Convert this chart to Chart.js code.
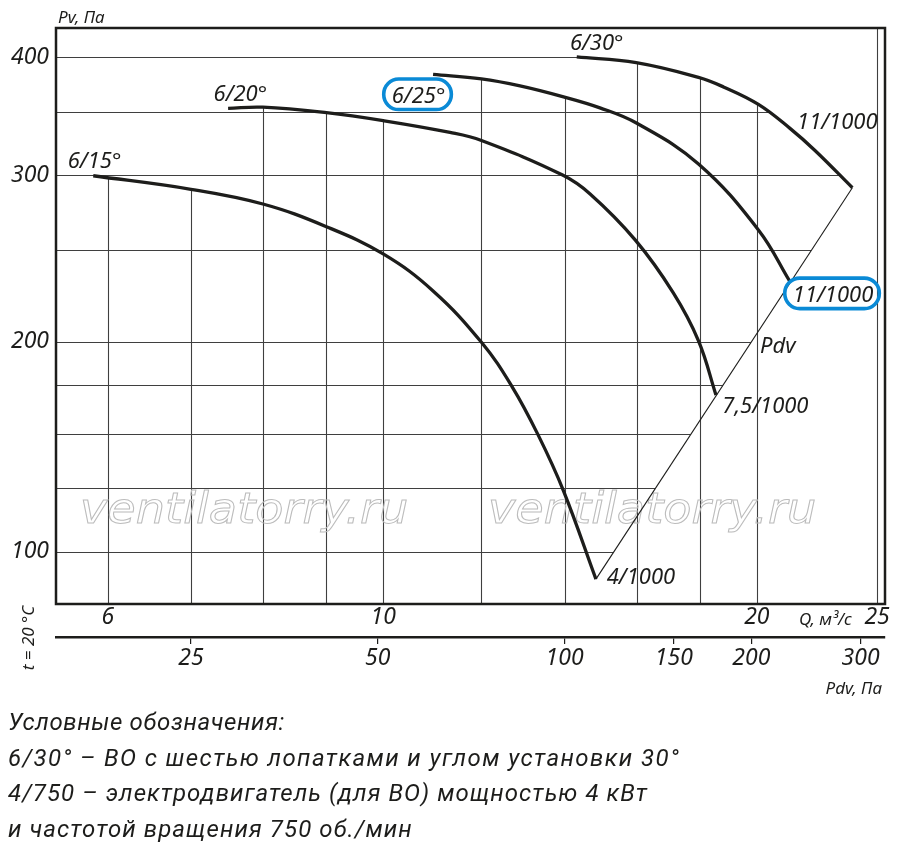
<!DOCTYPE html>
<html lang="ru">
<head>
<meta charset="utf-8">
<title>Аэродинамические характеристики ВО</title>
<script src="https://cdn.jsdelivr.net/npm/chart.js@4.4.1/dist/chart.umd.min.js"></script>
<style>
  html, body { margin: 0; padding: 0; background: #fff; }
  #wrap { position: relative; width: 900px; height: 854px; overflow: hidden; }
  #chart { position: absolute; left: 0; top: 0; }
  #legend {
    position: absolute; left: 8px; top: 705px;
    font-family: Roboto, "Noto Sans", sans-serif;
    font-style: italic; font-size: 24px; line-height: 35.5px; color: #1d1d1b;
  }
  #legend div { white-space: nowrap; width: max-content; }
</style>
</head>
<body>
<div id="wrap">
  <canvas id="chart" width="900" height="854"></canvas>
  <div id="legend">
    <div data-w="277">Условные обозначения:</div>
    <div data-w="672">6/30° – ВО с шестью лопатками и углом установки 30°</div>
    <div data-w="640">4/750 – электродвигатель (для ВО) мощностью 4 кВт</div>
    <div data-w="405">и частотой вращения 750 об./мин</div>
  </div>
</div>
<script>
// fan curves: Q, м³/с and Pv, Па
const q15 = [5.84, 7.0, 8.0, 9.0, 10.0, 10.97, 12.0, 12.7, 13.33, 13.97, 14.84];
const pv15 = [299.6, 289.9, 279.7, 264.7, 247.7, 226.4, 199.8, 179.4, 159.5, 139.3, 112.3];
const q20 = [7.5, 8.0, 9.0, 10.0, 11.32, 12.0, 13.95, 14.68, 15.96, 17.13, 17.95, 18.54];
const pv20 = [353, 354, 349.3, 342.6, 332.9, 326.4, 300.1, 286.6, 256.3, 225.3, 200.5, 175.8];
const q25 = [10.97, 12.0, 12.89, 13.95, 14.95, 16.01, 17.95, 20.06, 21.27];
const pv25 = [383.5, 379.2, 372.8, 363.2, 353.4, 340.4, 308.3, 262.6, 231.6];
const q30 = [14.32, 15.99, 17.95, 18.8, 20.06, 21.27, 22.28, 23.88];
const pv30 = [400, 394.5, 380.6, 371.9, 356.4, 336.2, 318.6, 291];
// dynamic pressure line through the curve ends
const qPdv = [14.84, 23.88];
const pvPdv = [112.3, 291];

const qTicks = [6, 7, 8, 9, 10, 12, 14, 16, 18, 20, 25];
const qLabels = ['6', '', '', '', '10', '', '', '', '', '20', '25'];
// the source drawing prints "100" on its lowest grid line
const pvTicks = [120, 140, 160, 180, 200, 250, 300, 350, 400];
const pvLabels = ['100', '', '', '', '200', '', '300', '', '400'];
const pdvTicks = [25, 50, 100, 150, 200, 300];

const qMin = 5.45, qMax = 25.37;
const pvMin = 105.7, pvMax = 429.2;
// Pdv scale: 25 Па at 7 м³/с, grows as Q²
const pdvOf = q => 25 * Math.pow(q / 7, 2);

const curveLabels = [
  { text: '6/15°', q: 5.57, pv: 305 },
  { text: '6/20°', q: 7.30, pv: 359 },
  { text: '6/25°', q: 10.16, pv: 358, boxed: true },
  { text: '6/30°', q: 14.14, pv: 407 },
  { text: '11/1000', q: 21.55, pv: 336 },
  { text: '11/1000', q: 21.38, pv: 220.6, boxed: true },
  { text: 'Pdv', q: 20.12, pv: 194.6 },
  { text: '7,5/1000', q: 18.76, pv: 168.2 },
  { text: '4/1000', q: 15.14, pv: 110.9 }
];

const INK = '#1d1d1b';
const GRID = '#3f3f3f';
const BLUE = '#0a8ad6';
const FAMILY = '"Noto Sans", "Open Sans", sans-serif';
const tickFont = { family: FAMILY, size: 23, style: 'italic' };

function tracePath(ctx, pts) {
  // follow the same bezier segments the line element uses
  ctx.lineTo(pts[0].x, pts[0].y);
  for (let i = 1; i < pts.length; i++) {
    const a = pts[i - 1], b = pts[i];
    if (a.cp2x !== undefined && b.cp1x !== undefined) {
      ctx.bezierCurveTo(a.cp2x, a.cp2y, b.cp1x, b.cp1y, b.x, b.y);
    } else {
      ctx.lineTo(b.x, b.y);
    }
  }
}

const decor = {
  id: 'decor',
  beforeDatasetsDraw(chart) {
    const { ctx, chartArea: a, scales } = chart;
    const pts = chart.data.datasets.map((d, i) => {
      const meta = chart.getDatasetMeta(i);
      meta.dataset.updateControlPoints(a, 'x');
      return meta.data;
    });
    const fans = pts.slice(0, 4);
    const p30 = pts[3];
    const pdv = pts[4];
    const end30 = p30[p30.length - 1];

    ctx.save();
    ctx.strokeStyle = GRID;
    ctx.lineWidth = 1.1;

    // vertical lines start at the upper curve
    ctx.save();
    ctx.beginPath();
    fans.forEach(p => {
      ctx.moveTo(p[0].x, a.bottom);
      tracePath(ctx, p);
      ctx.lineTo(p[p.length - 1].x, a.bottom);
      ctx.closePath();
    });
    ctx.rect(end30.x, a.top, a.right - end30.x, a.bottom - a.top);
    ctx.clip();
    ctx.beginPath();
    scales.x.ticks.forEach(t => {
      const x = Math.round(scales.x.getPixelForValue(t.value)) + 0.5;
      ctx.moveTo(x, a.top);
      ctx.lineTo(x, a.bottom);
    });
    ctx.stroke();
    ctx.restore();

    // horizontal lines stop at the 6/30 curve and the Pdv line
    ctx.save();
    ctx.beginPath();
    ctx.moveTo(a.left, a.top);
    ctx.lineTo(p30[0].x, a.top);
    tracePath(ctx, p30);
    for (let i = pdv.length - 1; i >= 0; i--) ctx.lineTo(pdv[i].x, pdv[i].y);
    ctx.lineTo(pdv[0].x, a.bottom);
    ctx.lineTo(a.left, a.bottom);
    ctx.closePath();
    ctx.clip();
    ctx.beginPath();
    scales.y.ticks.forEach(t => {
      const y = Math.round(scales.y.getPixelForValue(t.value)) + 0.5;
      ctx.moveTo(a.left, y);
      ctx.lineTo(a.right, y);
    });
    ctx.stroke();
    ctx.restore();

    // watermark
    ctx.font = 'italic 42px "DejaVu Sans", sans-serif';
    ctx.strokeStyle = '#bcbcbc';
    ctx.lineWidth = 1;
    ctx.textBaseline = 'alphabetic';
    [a.left + 24, a.left + 432].forEach(x => {
      ctx.save();
      ctx.translate(x, a.top + 495);
      ctx.scale(1.1, 1);
      ctx.strokeText('ventilatorry.ru', 0, 0);
      ctx.restore();
    });
    ctx.restore();
  },
  afterDatasetsDraw(chart) {
    const { ctx, chartArea: a, scales } = chart;
    ctx.save();
    ctx.strokeStyle = INK;
    ctx.lineWidth = 2.5;
    ctx.strokeRect(a.left, a.top, a.right - a.left, a.bottom - a.top);

    ctx.fillStyle = INK;
    ctx.font = 'italic 22px ' + FAMILY;
    ctx.textBaseline = 'alphabetic';
    ctx.textAlign = 'left';
    curveLabels.forEach(l => {
      const x = scales.x.getPixelForValue(l.q);
      const y = scales.y.getPixelForValue(l.pv);
      ctx.fillText(l.text, x, y);
      if (l.boxed) {
        const w = ctx.measureText(l.text).width;
        const x0 = x - 8, x1 = x + w + 6, y0 = y - 23.5, y1 = y + 7;
        ctx.save();
        ctx.strokeStyle = BLUE;
        ctx.lineWidth = 3.6;
        ctx.beginPath();
        ctx.roundRect(x0, y0, x1 - x0, y1 - y0, 15);
        ctx.stroke();
        ctx.restore();
      }
    });

    ctx.font = 'italic 17px ' + FAMILY;
    ctx.textBaseline = 'middle';
    ctx.fillText('Pv, Па', a.left + 2, a.top - 10);
    ctx.fillText('Q, м³/с', a.right - 86, a.bottom + 16);
    ctx.textAlign = 'right';
    ctx.fillText('Pdv, Па', a.right - 3, scales.x2.top + 52);

    ctx.translate(a.left - 27, scales.x2.top + 1);
    ctx.rotate(-Math.PI / 2);
    ctx.textAlign = 'center';
    ctx.fillText('t = 20 °C', 0, 0);
    ctx.restore();
  }
};

const lineStyle = { borderColor: INK, borderWidth: 3.3, pointRadius: 0, fill: false, tension: 0.4 };
const toPoints = (qs, pvs) => qs.map((q, i) => ({ x: q, y: pvs[i] }));

const config = {
  type: 'line',
  data: {
    datasets: [
      { label: '6/15°', data: toPoints(q15, pv15), ...lineStyle },
      { label: '6/20°', data: toPoints(q20, pv20), ...lineStyle },
      { label: '6/25°', data: toPoints(q25, pv25), ...lineStyle },
      { label: '6/30°', data: toPoints(q30, pv30), ...lineStyle },
      { label: 'Pdv', data: toPoints(qPdv, pvPdv), borderColor: INK, borderWidth: 1.1, pointRadius: 0, fill: false, tension: 0 }
    ]
  },
  options: {
    responsive: false,
    animation: false,
    events: [],
    layout: { padding: { top: 28, right: 15, bottom: 147, left: 0 } },
    plugins: { legend: { display: false }, tooltip: { enabled: false } },
    scales: {
      x: {
        type: 'logarithmic', position: 'bottom', min: qMin, max: qMax,
        border: { display: false },
        grid: { drawOnChartArea: false, drawTicks: false },
        afterBuildTicks: s => { s.ticks = qTicks.map(v => ({ value: v })); },
        afterFit: s => { s.height = 33; },
        ticks: {
          autoSkip: false, maxRotation: 0, padding: 0, color: INK, font: tickFont,
          callback: v => qLabels[qTicks.indexOf(v)] ?? ''
        }
      },
      x2: {
        type: 'logarithmic', position: 'bottom', min: pdvOf(qMin), max: pdvOf(qMax),
        border: { display: true, color: INK, width: 2.5 },
        grid: { drawOnChartArea: false, drawTicks: true, tickLength: 7, color: INK, lineWidth: 1.2 },
        afterBuildTicks: s => { s.ticks = pdvTicks.map(v => ({ value: v })); },
        afterFit: s => { s.height = 70; },
        ticks: {
          autoSkip: false, maxRotation: 0, padding: 1, color: INK, font: tickFont,
          callback: v => String(v)
        }
      },
      y: {
        type: 'logarithmic', position: 'left', min: pvMin, max: pvMax,
        border: { display: false },
        grid: { drawOnChartArea: false, drawTicks: false },
        afterBuildTicks: s => { s.ticks = pvTicks.map(v => ({ value: v })); },
        afterFit: s => { s.width = 56; },
        ticks: {
          autoSkip: false, padding: 7, color: INK, font: tickFont,
          callback: v => pvLabels[pvTicks.indexOf(v)] ?? ''
        }
      }
    }
  },
  plugins: [decor]
};

const chart = new Chart(document.getElementById('chart').getContext('2d'), config);

// spread each legend line to the width it has in the drawing
function fitLegend() {
  document.querySelectorAll('#legend div').forEach(el => {
    el.style.letterSpacing = '0px';
    const w = el.getBoundingClientRect().width;
    const target = Number(el.dataset.w);
    const n = el.textContent.length;
    el.style.letterSpacing = ((target - w) / n).toFixed(2) + 'px';
  });
}
fitLegend();
if (document.fonts) document.fonts.ready.then(fitLegend);
</script>
</body>
</html>
